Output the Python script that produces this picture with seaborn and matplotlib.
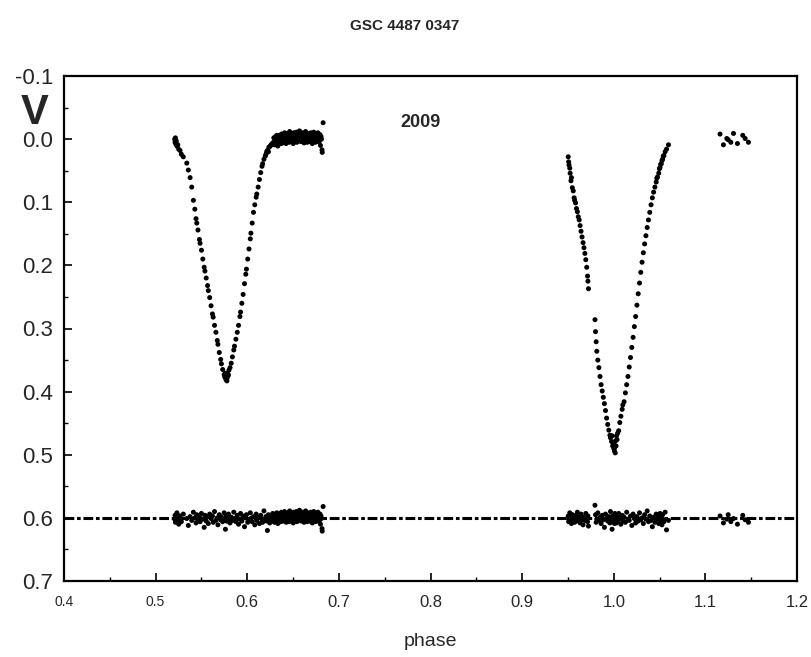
import pandas as pd
import seaborn as sns
import matplotlib.pyplot as plt
from matplotlib.ticker import MultipleLocator, FormatStrFormatter

# -----------------------------
# data
# -----------------------------
# secondary eclipse, descending branch
d1l_phase = [0.5208, 0.5212, 0.5216, 0.5221, 0.5226, 0.5233, 0.5242, 0.5252, 0.5266, 0.5281,
             0.5302, 0.5340, 0.5357, 0.5376, 0.5394, 0.5412, 0.5428, 0.5441, 0.5449, 0.5462,
             0.5478, 0.5485, 0.5500, 0.5515, 0.5530, 0.5538, 0.5552, 0.5567, 0.5575, 0.5590,
             0.5605, 0.5620, 0.5628, 0.5643, 0.5658, 0.5673, 0.5680, 0.5695, 0.5710, 0.5718,
             0.5732, 0.5748, 0.5755, 0.5762, 0.5768, 0.5774, 0.5778]
d1l_mag = [0.000, 0.005, -0.002, 0.008, 0.003, 0.011, 0.009, 0.016, 0.018, 0.024,
           0.028, 0.038, 0.049, 0.061, 0.076, 0.097, 0.111, 0.126, 0.133, 0.144,
           0.159, 0.165, 0.176, 0.190, 0.203, 0.209, 0.220, 0.232, 0.240, 0.251,
           0.264, 0.277, 0.282, 0.295, 0.306, 0.319, 0.325, 0.338, 0.349, 0.356,
           0.365, 0.373, 0.377, 0.371, 0.381, 0.376, 0.383]

# secondary eclipse, ascending branch
d1r_phase = [0.5782, 0.5788, 0.5795, 0.5800, 0.5812, 0.5825, 0.5838, 0.5853, 0.5861, 0.5876,
             0.5891, 0.5905, 0.5920, 0.5927, 0.5941, 0.5955, 0.5970, 0.5984, 0.5991, 0.6005,
             0.6019, 0.6033, 0.6040, 0.6054, 0.6068, 0.6082, 0.6097, 0.6104, 0.6119, 0.6133,
             0.6147, 0.6161, 0.6168, 0.6182, 0.6197, 0.6204, 0.6212, 0.6220, 0.6231, 0.6236,
             0.6245, 0.6255, 0.6266, 0.6278]
d1r_mag = [0.378, 0.372, 0.374, 0.366, 0.362, 0.355, 0.345, 0.334, 0.328, 0.317,
           0.306, 0.295, 0.281, 0.274, 0.260, 0.246, 0.229, 0.214, 0.206, 0.190,
           0.174, 0.158, 0.149, 0.133, 0.116, 0.104, 0.092, 0.087, 0.076, 0.064,
           0.053, 0.043, 0.039, 0.032, 0.027, 0.024, 0.020, 0.018, 0.020, 0.013,
           0.012, 0.010, 0.008, 0.006]

# out of eclipse after the secondary minimum
plat_phase = [0.6285, 0.6290, 0.6296, 0.6301, 0.6307, 0.6312, 0.6318, 0.6323, 0.6329, 0.6334,
              0.6340, 0.6346, 0.6351, 0.6357, 0.6362, 0.6368, 0.6374, 0.6379, 0.6385, 0.6390,
              0.6396, 0.6402, 0.6407, 0.6413, 0.6418, 0.6424, 0.6430, 0.6435, 0.6441, 0.6446,
              0.6452, 0.6458, 0.6463, 0.6469, 0.6474, 0.6480, 0.6486, 0.6491, 0.6497, 0.6502,
              0.6508, 0.6514, 0.6519, 0.6525, 0.6530, 0.6536, 0.6542, 0.6547, 0.6553, 0.6558,
              0.6564, 0.6570, 0.6575, 0.6581, 0.6586, 0.6592, 0.6598, 0.6603, 0.6609, 0.6614,
              0.6620, 0.6626, 0.6631, 0.6637, 0.6642, 0.6648, 0.6654, 0.6659, 0.6665, 0.6670,
              0.6676, 0.6681, 0.6687, 0.6693, 0.6698, 0.6704, 0.6710, 0.6715, 0.6721, 0.6726,
              0.6732, 0.6738, 0.6743, 0.6749, 0.6754, 0.6760, 0.6766, 0.6771, 0.6777, 0.6782,
              0.6788, 0.6794, 0.6799, 0.6805, 0.6810, 0.6816, 0.6818, 0.6828]
plat_mag = [0.006, -0.002, 0.009, 0.003, -0.004, 0.007, 0.001, -0.006, 0.004, 0.011,
            -0.001, 0.005, -0.006, 0.003, -0.004, 0.007, -0.008, 0.002, -0.003, 0.006,
            -0.006, 0.002, -0.010, 0.003, -0.002, 0.007, -0.006, 0.000, -0.009, 0.004,
            -0.004, 0.005, -0.012, 0.000, -0.005, 0.002, -0.008, 0.004, -0.003, 0.007,
            -0.010, -0.001, -0.006, 0.003, -0.002, -0.011, 0.005, -0.004, 0.001, -0.008,
            0.002, -0.013, 0.000, -0.005, 0.004, -0.007, -0.001, -0.010, 0.003, -0.003,
            0.006, -0.006, 0.000, -0.012, 0.002, -0.004, 0.005, -0.009, -0.001, -0.005,
            0.004, -0.007, 0.001, -0.010, 0.003, -0.003, 0.007, -0.007, 0.000, -0.011,
            0.002, -0.004, 0.005, -0.008, -0.001, -0.005, 0.004, -0.010, 0.001, -0.003,
            0.003, -0.007, 0.010, -0.004, 0.000, 0.017, 0.021, -0.026]

# primary eclipse, descending branch (with the gap near 0.975)
d2l_phase = [0.9503, 0.9508, 0.9512, 0.9520, 0.9524, 0.9533, 0.9538, 0.9548, 0.9558, 0.9568,
             0.9573, 0.9583, 0.9593, 0.9603, 0.9613, 0.9623, 0.9633, 0.9643, 0.9654, 0.9665,
             0.9675, 0.9685, 0.9695, 0.9705, 0.9714, 0.9718, 0.9724, 0.9795, 0.9801, 0.9808,
             0.9815, 0.9826, 0.9838, 0.9850, 0.9862, 0.9874, 0.9886, 0.9898, 0.9910, 0.9922,
             0.9934, 0.9946, 0.9958, 0.9964, 0.9976, 0.9982, 0.9988, 0.9994, 1.0000, 1.0004,
             1.0008, 1.0012, 1.0016]
d2l_mag = [0.028, 0.036, 0.041, 0.046, 0.054, 0.066, 0.061, 0.077, 0.082, 0.093,
           0.097, 0.101, 0.110, 0.115, 0.123, 0.128, 0.137, 0.146, 0.155, 0.164,
           0.172, 0.181, 0.191, 0.203, 0.217, 0.225, 0.237, 0.286, 0.305, 0.321,
           0.336, 0.350, 0.362, 0.376, 0.389, 0.399, 0.409, 0.419, 0.430, 0.442,
           0.452, 0.461, 0.469, 0.473, 0.479, 0.470, 0.486, 0.481, 0.490, 0.484,
           0.494, 0.488, 0.497]

# primary eclipse, ascending branch
d2r_phase = [1.0020, 1.0025, 1.0030, 1.0036, 1.0042, 1.0054, 1.0066, 1.0078, 1.0092, 1.0099,
             1.0113, 1.0127, 1.0141, 1.0155, 1.0169, 1.0183, 1.0197, 1.0211, 1.0225, 1.0239,
             1.0253, 1.0267, 1.0281, 1.0295, 1.0309, 1.0323, 1.0337, 1.0351, 1.0365, 1.0379,
             1.0393, 1.0407, 1.0421, 1.0435, 1.0449, 1.0463, 1.0470, 1.0477, 1.0491, 1.0498,
             1.0505, 1.0512, 1.0519, 1.0526, 1.0533, 1.0540, 1.0547, 1.0561, 1.0576, 1.0597]
d2r_mag = [0.478, 0.486, 0.470, 0.476, 0.466, 0.462, 0.449, 0.439, 0.428, 0.421,
           0.416, 0.402, 0.389, 0.376, 0.361, 0.346, 0.330, 0.314, 0.297, 0.281,
           0.263, 0.245, 0.228, 0.211, 0.195, 0.180, 0.166, 0.153, 0.140, 0.128,
           0.116, 0.104, 0.093, 0.084, 0.076, 0.068, 0.062, 0.060, 0.054, 0.047,
           0.045, 0.040, 0.039, 0.034, 0.032, 0.027, 0.026, 0.020, 0.016, 0.009]

# small group after the primary minimum
clu_phase = [1.1160, 1.1197, 1.1234, 1.1249, 1.1278, 1.1307, 1.1350, 1.1408, 1.1434, 1.1470]
clu_mag = [-0.008, 0.009, -0.001, 0.001, 0.005, -0.009, 0.007, -0.006, -0.001, 0.005]

# O-C residuals (millimag), shown around the 0.6 level
res_d1l = [2, -4, 7, -1, 5, -8, 3, 10, -3, 6, -6, 1, 12, -2, 4, -9, 0, 8, -5, 3,
           -1, 6, -7, 2, 15, -4, 5, -2, 9, -6, 1, -3, 7, -10, 4, 0, 11, -5, 3, -1,
           6, -8, 2, 18, -4, 5, -2]
res_d1r = [-2, 5, -6, 3, 8, -1, 4, -9, 1, 6, -4, 10, 2, -7, 5, -3, 14, 0, -5, 7,
           3, -8, 1, 6, -2, 11, -6, 4, -1, 9, -4, 2, 7, -11, 3, -2, 5, 20, -5, 1,
           8, -3, 4, -7]
res_plat = [4, -3, 7, 1, -6, 5, 0, -8, 3, 9, -2, 4, -7, 2, -4, 6, -9, 1, -3, 5,
            -6, 2, -10, 3, -1, 7, -5, 0, -8, 4, -3, 6, -11, 1, -4, 3, -7, 5, -2, 8,
            -9, 0, -5, 4, -1, -10, 6, -3, 2, -7, 3, -12, 1, -4, 5, -6, 0, -9, 4, -2,
            7, -5, 1, -11, 3, -3, 6, -8, 0, -4, 5, -6, 2, -9, 4, -2, 8, -6, 1, -10,
            3, -3, 6, -7, 0, -4, 5, -9, 2, -2, 4, -6, 10, -3, 1, 17, 21, -18]
res_d2l = [-3, 6, 2, -8, 4, -1, 9, -5, 3, 0, 7, -4, 1, -9, 5, -2, 8, -6, 3, 11,
           -1, 4, -7, 2, 6, -3, 13, -20, -5, 7, 2, -8, 4, -1, 9, -4, 3, 15, -6, 1,
           5, -2, 8, -10, 3, 18, -3, 6, -4, 2, 9, -7, 4]
res_d2r = [3, -5, 8, -2, 6, -7, 1, 10, -4, 5, -1, 7, -9, 2, 4, -3, 12, -6, 1, 8,
           -2, 5, -8, 3, 0, 9, -5, 2, -11, 6, -3, 4, 14, -1, 7, -6, 2, -4, 9, 1,
           -7, 5, -2, 11, -5, 3, 6, -9, 19, 4]
res_clu = [-3, 8, 2, -5, 6, 1, 10, -4, 3, 7]

res_level = 0.6

# -----------------------------
# tables
# -----------------------------
obs = pd.DataFrame({
    "phase": d1l_phase + d1r_phase + plat_phase + d2l_phase + d2r_phase + clu_phase,
    "V": d1l_mag + d1r_mag + plat_mag + d2l_mag + d2r_mag + clu_mag,
})

res_rows = []
for ph, rr in [(d1l_phase, res_d1l), (d1r_phase, res_d1r), (plat_phase, res_plat),
               (d2l_phase, res_d2l), (d2r_phase, res_d2r), (clu_phase, res_clu)]:
    for p, r in zip(ph, rr):
        res_rows.append((p, res_level + r / 1000))
res = pd.DataFrame(res_rows, columns=["phase", "V"])

# -----------------------------
# plot
# -----------------------------
sns.set_style("ticks")
plt.rcParams["font.family"] = ["Liberation Sans", "DejaVu Sans"]

fig = plt.figure(figsize=(8.11, 6.57), dpi=100)
ax = fig.add_axes([64 / 811, 1 - 581 / 657, 733 / 811, 505 / 657])

ax.axhline(res_level, color="black", lw=2.2, dashes=(3.2, 0.9, 1.2, 0.9), zorder=1)
sns.scatterplot(data=obs, x="phase", y="V", s=13, color="black", edgecolor="none", ax=ax)
sns.scatterplot(data=res, x="phase", y="V", s=13, color="black", edgecolor="none", ax=ax)

ax.set_xlim(0.4, 1.2)
ax.set_ylim(0.7, -0.1)
ax.xaxis.set_major_locator(MultipleLocator(0.1))
ax.xaxis.set_minor_locator(MultipleLocator(0.05))
ax.yaxis.set_major_locator(MultipleLocator(0.1))
ax.yaxis.set_minor_locator(MultipleLocator(0.05))
ax.xaxis.set_major_formatter(FormatStrFormatter("%.1f"))
ax.yaxis.set_major_formatter(FormatStrFormatter("%.1f"))

ax.tick_params(which="major", direction="in", length=6, width=1.2, color="black")
ax.tick_params(which="minor", direction="in", length=3, width=1.0, color="black")
ax.tick_params(axis="y", labelsize=16, pad=8)
ax.tick_params(axis="x", labelsize=12, pad=10)
for sp in ax.spines.values():
    sp.set_linewidth(1.6)
    sp.set_color("black")

# the 0.4 and 0.5 phase labels are printed smaller in the original
fig.canvas.draw()
for lab in ax.get_xticklabels():
    if lab.get_text() in ("0.4", "0.5"):
        lab.set_fontsize(10)

ax.set_xlabel("phase", fontsize=14, labelpad=17)
ax.set_ylabel("")

fig.text(405 / 811, 1 - 26 / 657, "GSC 4487 0347", fontsize=11, fontweight="bold",
         ha="center", va="center")
fig.text(35 / 811, 1 - 113 / 657, "V", fontsize=30, fontweight="bold",
         ha="center", va="center")
ax.text(0.789, -0.027, "2009", fontsize=13, fontweight="bold", ha="center", va="center")

fig.savefig("out.png", dpi=100)
